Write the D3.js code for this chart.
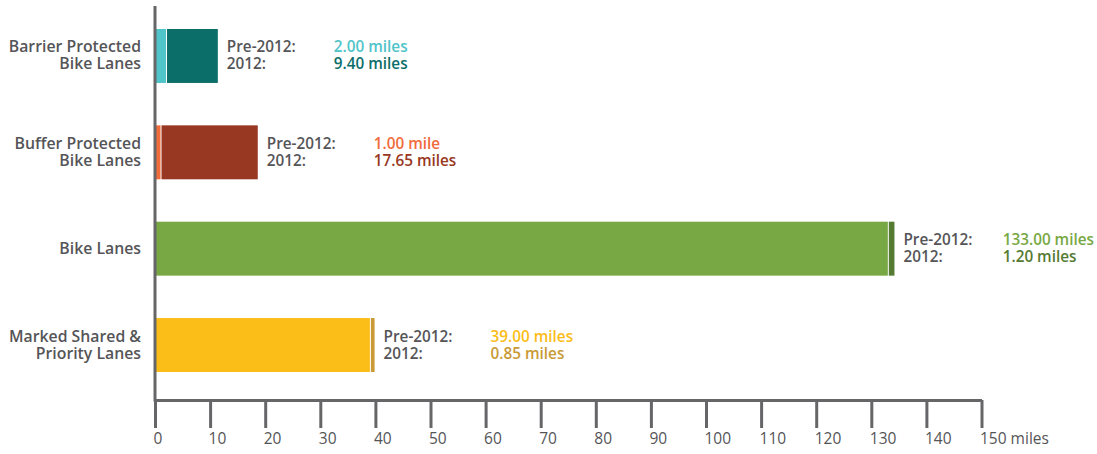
<!DOCTYPE html>
<html>
<head>
<meta charset="utf-8">
<script src="https://cdn.jsdelivr.net/npm/d3@7"></script>
<style>
  body { margin: 0; background: #fff; }
  text { font-family: "Open Sans", sans-serif; }
</style>
</head>
<body>
<div id="chart"></div>
<script>
// Data
const categories = [
  ["Barrier Protected", "Bike Lanes"],
  ["Buffer Protected", "Bike Lanes"],
  ["Bike Lanes"],
  ["Marked Shared &", "Priority Lanes"]
];
const pre2012 = [2.00, 1.00, 133.00, 39.00];
const in2012 = [9.40, 17.65, 1.20, 0.85];
const preColors = ["#4fc4c9", "#f26b3a", "#78a843", "#fbbd18"];
const newColors = ["#0b6e69", "#983722", "#557a32", "#c99a35"];
const ticks = [0, 10, 20, 30, 40, 50, 60, 70, 80, 90, 100, 110, 120, 130, 140, 150];

const width = 1097, height = 454;
const grey = "#666669";
const textGrey = "#555558";

const svg = d3.select("#chart")
  .append("svg")
  .attr("width", width)
  .attr("height", height);

// Scales
const x = d3.scaleLinear()
  .domain([0, 150])
  .range([155, 981.5]);

const y = d3.scaleBand()
  .domain(d3.range(categories.length))
  .range([7.8, 393.2])
  .paddingInner(0.44)
  .paddingOuter(0.22);

const fmt = v => d3.format(".2f")(v) + (v === 1 ? " mile" : " miles");

// Bars
const rows = svg.selectAll("g.row")
  .data(categories.map((c, i) => ({ c, i, pre: pre2012[i], now: in2012[i] })))
  .join("g")
  .attr("class", "row");

rows.append("rect")
  .attr("x", x(0) + 1)
  .attr("y", d => y(d.i))
  .attr("width", d => x(d.pre) - x(0) - 1)
  .attr("height", y.bandwidth())
  .attr("fill", d => preColors[d.i]);

rows.append("rect")
  .attr("x", d => x(d.pre) + 1)
  .attr("y", d => y(d.i))
  .attr("width", d => x(d.pre + d.now) - x(d.pre) - 1)
  .attr("height", y.bandwidth())
  .attr("fill", d => newColors[d.i]);

rows.each(function (d) {
  const g = d3.select(this);
  const cy = y(d.i) + y.bandwidth() / 2;

  // Category labels
  const lines = d.c;
  lines.forEach((line, k) => {
    const base = lines.length === 1 ? cy + 5.5 : cy - 3.5 + k * 17;
    g.append("text")
      .attr("x", 141)
      .attr("y", base)
      .attr("text-anchor", "end")
      .attr("fill", textGrey)
      .style("font-size", "15.8px")
      .style("font-weight", 600)
      .text(line);
  });

  // Value labels
  const lx = x(d.pre + d.now) + 9;
  const vals = [];
  [["Pre-2012:", fmt(d.pre), preColors[d.i]], ["2012:", fmt(d.now), newColors[d.i]]]
    .forEach(([lab, val, col], k) => {
      const base = cy - 3.5 + k * 17;
      g.append("text")
        .attr("x", lx)
        .attr("y", base)
        .attr("fill", textGrey)
        .style("font-size", "15.3px")
        .style("font-weight", 600)
        .text(lab);
      vals.push(g.append("text")
        .attr("y", base)
        .attr("fill", col)
        .style("font-size", "15.3px")
        .style("font-weight", 600)
        .text(val));
    });
  // one value column per row, kept inside the picture
  const w = d3.max(vals, v => v.node().getComputedTextLength());
  const vx = Math.min(lx + 107, width - 3 - w);
  vals.forEach(v => v.attr("x", vx));
});

// X axis
const xAxis = svg.append("g")
  .attr("transform", "translate(0,400)")
  .call(d3.axisBottom(x).tickValues(ticks).tickSize(28).tickSizeOuter(0)
    .tickFormat(d => d === 150 ? "150 miles" : d));

xAxis.select(".domain")
  .attr("stroke", grey)
  .attr("stroke-width", 3);
xAxis.selectAll(".tick line")
  .attr("stroke", grey)
  .attr("stroke-width", 3);
xAxis.selectAll(".tick text")
  .attr("text-anchor", "start")
  .attr("x", -2)
  .attr("y", 33)
  .attr("fill", textGrey)
  .style("font-family", "'Open Sans', sans-serif")
  .style("font-size", "15.5px");

// Y axis line
svg.append("line")
  .attr("x1", x(0))
  .attr("x2", x(0))
  .attr("y1", 6)
  .attr("y2", 401.5)
  .attr("stroke", grey)
  .attr("stroke-width", 3);
</script>
</body>
</html>
